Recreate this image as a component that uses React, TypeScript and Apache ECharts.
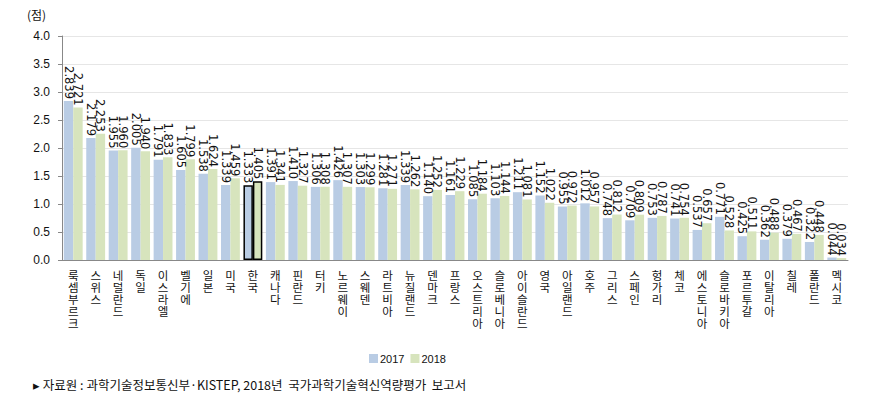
import React, { useEffect, useRef } from "react";
import * as echarts from "echarts";

const categories = [
  "룩셈부르크", "스위스", "네덜란드", "독일", "이스라엘", "벨기에", "일본", "미국", "한국",
  "캐나다", "핀란드", "터키", "노르웨이", "스웨덴", "라트비아", "뉴질랜드", "덴마크", "프랑스",
  "오스트리아", "슬로베니아", "아이슬란드", "영국", "아일랜드", "호주", "그리스", "스페인",
  "헝가리", "체코", "에스토니아", "슬로바키아", "포르투갈", "이탈리아", "칠레", "폴란드", "멕시코",
];
const values2017 = [
  2.839, 2.179, 1.955, 2.005, 1.791, 1.605, 1.538, 1.339, 1.333,
  1.391, 1.41, 1.306, 1.426, 1.303, 1.281, 1.339, 1.14, 1.161,
  1.085, 1.103, 1.211, 1.152, 0.955, 1.012, 0.748, 0.709,
  0.753, 0.741, 0.537, 0.771, 0.425, 0.362, 0.379, 0.322, 0.044,
];
const values2018 = [
  2.721, 2.253, 1.96, 1.94, 1.833, 1.799, 1.624, 1.459, 1.405,
  1.341, 1.327, 1.308, 1.307, 1.299, 1.271, 1.262, 1.252, 1.229,
  1.184, 1.144, 1.081, 1.022, 0.972, 0.957, 0.812, 0.809,
  0.787, 0.754, 0.657, 0.528, 0.511, 0.488, 0.467, 0.448, 0.034,
];
const seriesNames = ["2017", "2018"];
const highlight = "한국";
const yTicks = { min: 0, max: 4, interval: 0.5 };
const unitLabel = "(점)";
const sourceText = "▸ 자료원 : 과학기술정보통신부·KISTEP, 2018년  국가과학기술혁신역량평가  보고서";

const colors = ["#b9cce4", "#d7e4bd"];

export default function App() {
  const ref = useRef<HTMLDivElement>(null);
  useEffect(() => {
    if (!ref.current) return;
    const chart = echarts.init(ref.current, null, { renderer: "svg" });
    const mk = (vals: number[], color: string) =>
      vals.map((v, i) =>
        categories[i] === highlight
          ? { value: v, itemStyle: { color, borderColor: "#000", borderWidth: 1.5 } }
          : { value: v }
      );
    const label = {
      show: true,
      position: "top" as const,
      rotate: -90,
      align: "right" as const,
      verticalAlign: "middle" as const,
      distance: 2,
      fontSize: 11.5,
      fontFamily: "DejaVu Sans",
      color: "#111",
      formatter: (p: any) => Number(p.value).toFixed(3),
    };
    chart.setOption({
      animation: false,
      color: colors,
      grid: { left: 62, right: 32, top: 36, bottom: 146 },
      legend: {
        data: seriesNames,
        left: 364,
        top: 348,
        itemWidth: 9,
        itemHeight: 9,
        itemGap: 6,
        icon: "rect",
        textStyle: { fontSize: 11, color: "#111", fontFamily: "Arial, Liberation Sans", padding: [0, 0, 0, -3] },
      },
      xAxis: {
        type: "category",
        data: categories,
        axisLine: { lineStyle: { color: "#888" } },
        axisTick: { length: 5, lineStyle: { color: "#888" } },
        axisLabel: {
          interval: 0,
          fontSize: 11.5,
          lineHeight: 12,
          margin: 9,
          color: "#111",
          fontFamily: "Noto Sans CJK KR",
          formatter: (v: string) => v.split("").join("\n"),
        },
      },
      yAxis: {
        type: "value",
        min: yTicks.min,
        max: yTicks.max,
        interval: yTicks.interval,
        axisLine: { show: true, lineStyle: { color: "#888" } },
        axisTick: { show: true, length: 4, lineStyle: { color: "#888" } },
        splitLine: { lineStyle: { color: "#e6e6e6" } },
        axisLabel: {
          fontSize: 12,
          color: "#111",
          fontFamily: "Arial, Liberation Sans",
          margin: 12,
          formatter: (v: number) => v.toFixed(1),
        },
      },
      series: [
        {
          name: seriesNames[0],
          type: "bar",
          data: mk(values2017, colors[0]),
          barGap: "0%",
          barCategoryGap: "16%",
          label,
        },
        {
          name: seriesNames[1],
          type: "bar",
          data: mk(values2018, colors[1]),
          barGap: "0%",
          barCategoryGap: "16%",
          label,
        },
      ],
      graphic: [
        {
          type: "text",
          left: 27,
          top: 8,
          style: { text: unitLabel, fontSize: 12, fill: "#111", fontFamily: "Noto Sans CJK KR" },
        },
        {
          type: "text",
          left: 33,
          top: 378,
          style: { text: sourceText, fontSize: 12.5, fill: "#111", fontFamily: "Noto Sans CJK KR" },
        },
      ],
    });
    return () => chart.dispose();
  }, []);
  return <div ref={ref} style={{ width: 880, height: 406, position: "absolute", left: 0, top: 0 }} />;
}
